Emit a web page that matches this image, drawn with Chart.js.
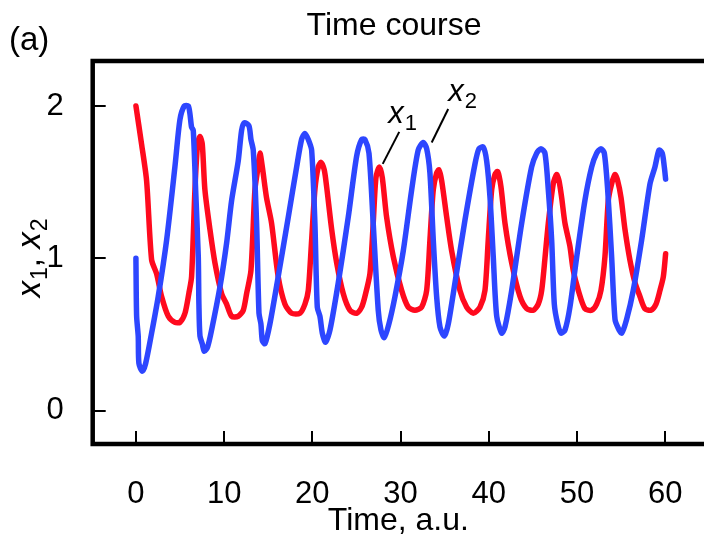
<!DOCTYPE html>
<html>
<head>
<meta charset="utf-8">
<title>Time course</title>
<script src="https://cdn.jsdelivr.net/npm/chart.js@4.4.1/dist/chart.umd.min.js"></script>
<style>
  html,body{margin:0;padding:0;background:#fff;}
  #wrap{position:relative;width:704px;height:535px;overflow:hidden;}
</style>
</head>
<body>
<div id="wrap"><canvas id="c" width="704" height="535"></canvas></div>
<script>
// ======= Data =======
const x1Time = [0,0.64,1.21,1.78,2.34,2.91,3.67,4.42,4.99,5.56,6.0,6.31,6.69,6.99,7.26,7.52,7.82,8.39,8.96,9.71,10.28,10.85,11.6,12.17,12.55,13.04,13.49,13.8,14.06,14.33,14.8,15.38,16.13,16.89,17.65,18.59,19.16,19.54,19.92,20.29,20.67,20.98,21.35,21.62,22.19,22.76,23.5,24.26,25.02,25.59,25.96,26.53,26.9,27.21,27.59,27.93,28.42,29.18,30.12,30.87,31.63,32.39,32.96,33.33,33.71,34.09,34.35,34.66,35.23,35.79,36.73,37.49,38.24,39.0,39.57,39.94,40.33,40.7,41.01,41.38,41.84,42.6,43.54,44.3,45.05,45.61,46.0,46.37,46.75,47.31,47.69,47.96,48.26,48.64,49.2,49.58,50.15,50.9,51.67,52.23,52.72,53.17,53.55,53.93,54.31,54.61,54.99,55.44,56.0,56.58,57.14,57.7,58.39,58.96,59.41,59.79,60.05];
const x1Values = [2.0,1.75,1.51,0.99,0.90,0.75,0.62,0.58,0.58,0.64,0.77,0.88,1.45,1.75,1.80,1.75,1.45,1.19,0.97,0.77,0.70,0.62,0.62,0.66,0.77,0.92,1.45,1.58,1.69,1.60,1.40,1.23,0.88,0.70,0.64,0.64,0.70,0.79,1.12,1.45,1.60,1.63,1.58,1.47,1.19,0.97,0.77,0.66,0.64,0.68,0.75,0.90,1.23,1.53,1.60,1.53,1.27,1.01,0.79,0.68,0.66,0.68,0.79,1.12,1.45,1.56,1.58,1.51,1.27,1.05,0.79,0.68,0.64,0.68,0.79,1.12,1.45,1.55,1.57,1.47,1.23,0.97,0.75,0.67,0.66,0.70,0.79,1.0,1.23,1.49,1.55,1.51,1.40,1.23,1.08,0.92,0.79,0.67,0.66,0.70,0.79,1.01,1.38,1.49,1.55,1.51,1.40,1.19,0.99,0.84,0.75,0.67,0.66,0.70,0.79,0.88,1.03];

const x2Time = [0,0.08,0.26,0.34,0.72,1.1,1.78,2.53,3.48,4.42,4.99,5.48,5.93,6.12,6.31,6.5,6.77,7.07,7.14,7.26,7.52,7.75,8.13,8.58,9.52,10.28,10.85,11.6,11.98,12.28,12.81,13.04,13.3,13.68,13.95,14.17,14.33,14.63,15.19,16.13,17.27,18.22,18.78,19.16,19.54,19.92,20.29,20.56,20.86,21.13,21.5,22.0,22.94,24.07,25.02,25.59,25.96,26.42,26.9,27.47,27.78,28.15,28.68,29.37,30.31,31.26,32.0,32.57,32.96,33.33,33.71,34.09,34.47,34.96,35.41,36.17,37.3,38.44,38.89,39.38,39.76,40.14,40.51,40.9,41.46,41.84,42.6,43.73,44.86,45.43,45.92,46.37,46.75,47.13,47.43,47.81,48.19,48.64,49.2,49.97,50.9,51.67,52.23,52.72,53.1,53.48,53.93,54.31,54.69,55.07,55.63,56.38,57.33,58.28,58.84,59.3,59.67,59.9,60.05];
const x2Values = [1.0,0.62,0.49,0.31,0.26,0.31,0.51,0.75,1.12,1.60,1.91,2.0,2.0,1.95,1.86,1.84,1.45,1.01,0.70,0.49,0.44,0.39,0.42,0.53,0.81,1.10,1.38,1.64,1.84,1.89,1.87,1.78,1.71,1.23,0.64,0.57,0.46,0.44,0.57,0.88,1.27,1.60,1.78,1.82,1.78,1.71,1.23,0.68,0.62,0.51,0.45,0.53,0.84,1.27,1.67,1.78,1.78,1.69,1.23,0.66,0.53,0.48,0.57,0.75,1.05,1.45,1.71,1.76,1.72,1.56,1.12,0.75,0.55,0.49,0.57,0.84,1.25,1.62,1.72,1.73,1.64,1.40,1.01,0.62,0.51,0.55,0.79,1.23,1.60,1.69,1.72,1.69,1.45,1.12,0.70,0.57,0.51,0.53,0.68,1.01,1.38,1.60,1.69,1.72,1.69,1.45,1.01,0.60,0.54,0.51,0.60,0.79,1.12,1.49,1.60,1.71,1.69,1.60,1.52];

const xTickValues = [0,10,20,30,40,50,60];
const yTickValues = [0,1,2];

// labels pinned to the curves: [text, subscript, label x, label y, leader from (x,y), leader to (x,y)]
const curveLabels = [
  ['x','1',28.6,1.89, 29.85,1.83, 27.98,1.62],
  ['x','2',35.4,2.03, 35.40,1.98, 33.53,1.76]
];

const RED = '#ff0a1e';
const BLUE = '#2d46ff';
const FONT = '"Liberation Sans", Arial, Helvetica, sans-serif';

const pts = (xs, ys) => xs.map((x,i)=>({x, y: ys[i]}));

// ======= Frame, inward ticks and text annotations =======
function italicX(ctx, x, y, sub, size){
  ctx.font = 'italic ' + size + 'px ' + FONT;
  ctx.fillText('x', x, y);
  const w = ctx.measureText('x').width;
  ctx.font = Math.round(size*0.7) + 'px ' + FONT;
  ctx.fillText(sub, x + w + 1, y + size*0.22);
  return w + 1 + ctx.measureText(sub).width;
}

const framePlugin = {
  id: 'frame',
  afterDraw(chart){
    const {ctx, chartArea:a, scales:{x, y}} = chart;
    ctx.save();
    ctx.strokeStyle = '#000';
    ctx.lineCap = 'square';
    // box (right side runs off the picture)
    ctx.lineWidth = 4.5;
    ctx.beginPath();
    ctx.moveTo(chart.width + 5, a.top);
    ctx.lineTo(a.left, a.top);
    ctx.lineTo(a.left, a.bottom);
    ctx.lineTo(chart.width + 5, a.bottom);
    ctx.stroke();
    // ticks pointing inward
    ctx.lineWidth = 2;
    ctx.lineCap = 'butt';
    ctx.beginPath();
    xTickValues.forEach(v=>{
      const px = Math.round(x.getPixelForValue(v));
      ctx.moveTo(px, a.bottom); ctx.lineTo(px, a.bottom - 13);
    });
    yTickValues.forEach(v=>{
      const py = Math.round(y.getPixelForValue(v));
      ctx.moveTo(a.left, py); ctx.lineTo(a.left + 13, py);
    });
    ctx.stroke();

    // curve labels
    ctx.fillStyle = '#000';
    ctx.textBaseline = 'alphabetic';
    ctx.textAlign = 'left';
    curveLabels.forEach(([t, sub, lx, ly, fx, fy, tx, ty])=>{
      italicX(ctx, x.getPixelForValue(lx), y.getPixelForValue(ly), sub, 31);
      ctx.lineWidth = 2;
      ctx.beginPath();
      ctx.moveTo(x.getPixelForValue(fx), y.getPixelForValue(fy));
      ctx.lineTo(x.getPixelForValue(tx), y.getPixelForValue(ty));
      ctx.stroke();
    });

    // y axis title, rotated
    ctx.save();
    ctx.translate(40, (a.top + a.bottom)/2 + 6);
    ctx.rotate(-Math.PI/2);
    let cx = -39;
    cx += italicX(ctx, cx, 0, '1', 33);
    ctx.font = '33px ' + FONT;
    ctx.fillText(', ', cx, 0);
    cx += ctx.measureText(', ').width;
    italicX(ctx, cx, 0, '2', 33);
    ctx.restore();

    // panel letter and title
    ctx.font = '33px ' + FONT;
    ctx.fillText('(a)', 9, 50);
    ctx.textAlign = 'center';
    ctx.font = '32px ' + FONT;
    ctx.fillText('Time course', 394, 35);
    ctx.restore();
  }
};

// ======= Chart =======
const chart = new Chart(document.getElementById('c'), {
  type: 'line',
  data: {
    datasets: [
      {label:'x2', data: pts(x2Time, x2Values), borderColor: BLUE, borderWidth: 5.5, order: 0},
      {label:'x1', data: pts(x1Time, x1Values), borderColor: RED, borderWidth: 5.5, order: 1}
    ]
  },
  options: {
    responsive: false,
    animation: false,
    layout: {padding: {top: 61, right: 0, bottom: 0, left: 0}},
    elements: {point: {radius: 0}, line: {tension: 0.25, borderCapStyle: 'round', borderJoinStyle: 'round', fill: false}},
    plugins: {legend: {display: false}, tooltip: {enabled: false}, title: {display: false}},
    scales: {
      x: {
        type: 'linear', min: -4.9, max: 64.4,
        grid: {display: false}, border: {display: false},
        afterBuildTicks: s => { s.ticks = xTickValues.map(v=>({value: v})); },
        afterFit: s => { s.height = 91; s.paddingLeft = 0; s.paddingRight = 0; },
        ticks: {color: '#000', padding: 24, font: {family: FONT, size: 31}, maxRotation: 0},
        title: {display: true, text: 'Time, a.u.', color: '#000', font: {family: FONT, size: 32}, padding: {top: 0, bottom: -5}}
      },
      y: {
        min: -0.218, max: 2.295,
        grid: {display: false}, border: {display: false},
        afterBuildTicks: s => { s.ticks = yTickValues.map(v=>({value: v})); },
        afterFit: s => { s.width = 92.7; s.paddingTop = 0; s.paddingBottom = 0; },
        ticks: {color: '#000', padding: 21, font: {family: FONT, size: 31}}
      }
    }
  },
  plugins: [framePlugin]
});
</script>
</body>
</html>
